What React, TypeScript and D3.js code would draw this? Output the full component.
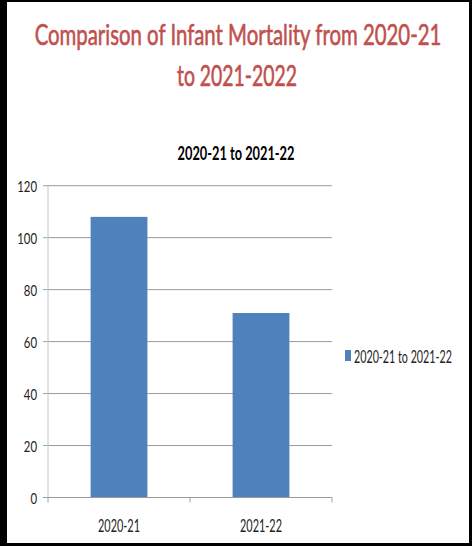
import React, { useLayoutEffect, useRef, useState } from "react";
import * as d3 from "d3";

const categories = ["2020-21", "2021-22"];
const values = [108, 71];
const seriesName = "2020-21 to 2021-22";
const yTicks = [0, 20, 40, 60, 80, 100, 120];
const titleLines = ["Comparison of Infant Mortality from 2020-21", "to 2021-2022"];
const subtitle = "2020-21 to 2021-22";

const W = 472;
const H = 546;
const FONT = "Lato, 'Open Sans', 'Liberation Sans', sans-serif";

type FitProps = {
  x: number;
  y: number;
  width: number;
  anchor?: "start" | "middle" | "end";
  children: React.ReactNode;
  [k: string]: any;
};

function FitText({ x, y, width, anchor = "start", children, ...rest }: FitProps) {
  const ref = useRef<SVGTextElement>(null);
  const [sx, setSx] = useState(1);
  useLayoutEffect(() => {
    const el = ref.current;
    if (!el) return;
    const L = el.getComputedTextLength();
    if (L > 0) setSx(width / L);
  }, [children, width]);
  return (
    <text ref={ref} transform={`translate(${x},${y}) scale(${sx},1)`} textAnchor={anchor} {...rest}>
      {children}
    </text>
  );
}

export default function App() {
  const x = d3.scaleBand<string>().domain(categories).range([48, 332]).padding(0);
  const y = d3.scaleLinear().domain([0, 120]).range([497.5, 185.7]);
  const barW = x.bandwidth() * 0.4;
  const catEdges = [...categories.map((c) => x(c) as number), 332];

  return (
    <svg
      width={W}
      height={H}
      style={{ position: "fixed", left: 0, top: 0, background: "#fff" }}
      fontFamily={FONT}
    >
      <rect x={0} y={0} width={W} height={H} fill="#fff" />
      {/* black frame */}
      <rect x={0} y={0} width={7} height={H} fill="#000" />
      <rect x={0} y={0} width={W} height={2} fill="#000" />
      <rect x={W - 3} y={0} width={3} height={H} fill="#000" />
      <rect x={0} y={H - 3} width={W} height={3} fill="#000" />

      {/* title */}
      <FitText x={238} y={45} anchor="middle" width={407} fontSize={29} fill="#C0504D"
        stroke="#C0504D" strokeWidth={0.6}>{titleLines[0]}</FitText>
      <FitText x={237} y={86} anchor="middle" width={120} fontSize={29} fill="#C0504D"
        stroke="#C0504D" strokeWidth={0.6}>{titleLines[1]}</FitText>

      {/* subtitle */}
      <FitText x={236} y={160} anchor="middle" width={117} fontSize={18} fontWeight="bold" fill="#000">{subtitle}</FitText>

      {/* gridlines */}
      {yTicks.filter((t) => t > 0).map((t) => (
        <line key={"g" + t} x1={48} x2={332} y1={y(t)} y2={y(t)} stroke="#9a9a9a" strokeWidth={1} />
      ))}
      {/* y ticks and labels */}
      {yTicks.map((t) => (
        <g key={"t" + t}>
          <line x1={43} x2={48} y1={y(t)} y2={y(t)} stroke="#a0a0a0" />
          <FitText x={37} y={y(t) + 6} anchor="end" width={String(t).length * 6.6} fontSize={16} fill="#222">{t}</FitText>
        </g>
      ))}
      {/* y axis */}
      <line x1={48} x2={48} y1={y(120)} y2={y(0)} stroke="#c4c4c4" />

      {/* bars */}
      {categories.map((c, i) => (
        <rect key={c}
          x={(x(c) as number) + (x.bandwidth() - barW) / 2}
          y={y(values[i])}
          width={barW}
          height={y(0) - y(values[i])}
          fill="#4F81BD" />
      ))}

      {/* x axis */}
      <line x1={48} x2={332} y1={y(0)} y2={y(0)} stroke="#9a9a9a" />
      {catEdges.map((ex, i) => (
        <line key={"xt" + i} x1={ex} x2={ex} y1={y(0)} y2={y(0) + 5} stroke="#a0a0a0" />
      ))}
      {categories.map((c) => (
        <FitText key={"xl" + c} x={(x(c) as number) + x.bandwidth() / 2} y={531.5} anchor="middle"
          width={42} fontSize={17} fill="#222">{c}</FitText>
      ))}

      {/* legend */}
      <rect x={345} y={350} width={6} height={11} fill="#4F81BD" />
      <FitText x={354} y={362.5} width={98} fontSize={17} fill="#222">{seriesName}</FitText>
    </svg>
  );
}
